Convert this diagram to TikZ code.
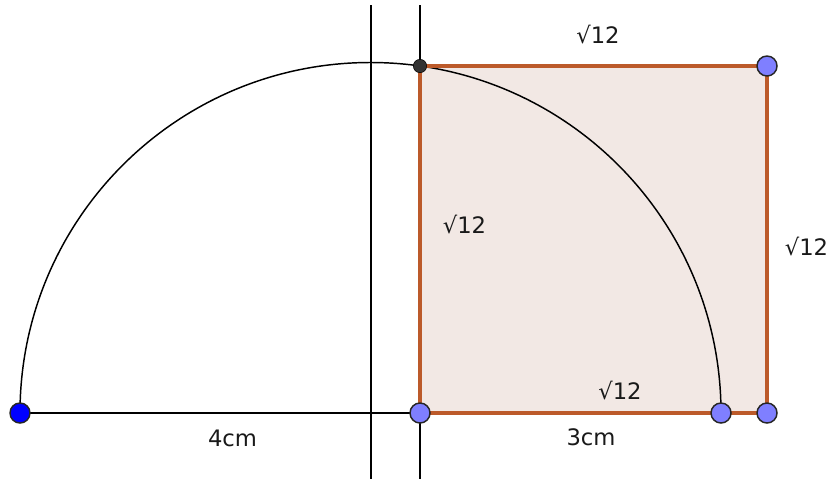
\documentclass[tikz,border=0pt]{standalone}
\usepackage{fontspec}
\setmainfont{DejaVu Sans}
\definecolor{sqfill}{HTML}{F2E8E4}
\definecolor{sqline}{HTML}{BC5A2A}
\definecolor{ptlight}{HTML}{7F7FFF}
\definecolor{ptblue}{HTML}{0000FF}
\definecolor{ptdark}{HTML}{333333}
\begin{document}
\begin{tikzpicture}[x=0.75pt,y=-0.75pt,
  lbl/.style={font=\fontsize{17}{20}\selectfont, text=black!90, anchor=base, inner sep=0pt},
  pt/.style={circle, draw=black!85, line width=1.1pt, fill=ptlight, minimum size=15pt, inner sep=0pt},
  ptb/.style={pt, fill=ptblue},
  ptd/.style={circle, draw=black, fill=ptdark, minimum size=10pt, inner sep=0pt},
  thin line/.style={black, line width=1.1pt},
  vline/.style={black, line width=1.5pt}]
\useasboundingbox (0,0) rectangle (834,479);
% square
\fill[sqfill] (420,66) rectangle (767,413);
% vertical lines
\coordinate (v1t) at (371,5); \coordinate (v1b) at (371,479);
\coordinate (v2t) at (420,5); \coordinate (v2b) at (420,479);
\draw[vline] (v1t) -- (v1b);
\draw[vline] (v2t) -- (v2b);
% points coordinates
\coordinate (A) at (20,413);
\coordinate (B) at (420,413);
\coordinate (C) at (721,413);
\coordinate (D) at (767,413);
\coordinate (E) at (767,66);
\coordinate (F) at (420,66);
% base line
\draw[thin line] (A) -- (B);
% semicircle
\draw[thin line] (A) arc[start angle=180, end angle=360, radius=350.5];
% square border
\draw[sqline, line width=2.4pt, line join=miter] (B) -- (D) -- (E) -- (F) -- cycle;
% points
\node[ptb] (a) at (A) {};
\node[pt] (b) at (B) {};
\node[pt] (c) at (C) {};
\node[pt] (d) at (D) {};
\node[pt] (e) at (E) {};
\node[ptd] (f) at (F) {};
% labels
\node[lbl] (l1) at (598,43) {√12};
\node[lbl] (l2) at (464.5,233) {√12};
\node[lbl] (l3) at (806.5,255) {√12};
\node[lbl] (l4) at (620,399) {√12};
\node[lbl] (l5) at (232.5,446) {4cm};
\node[lbl] (l6) at (591,445) {3cm};
\end{tikzpicture}
\end{document}
